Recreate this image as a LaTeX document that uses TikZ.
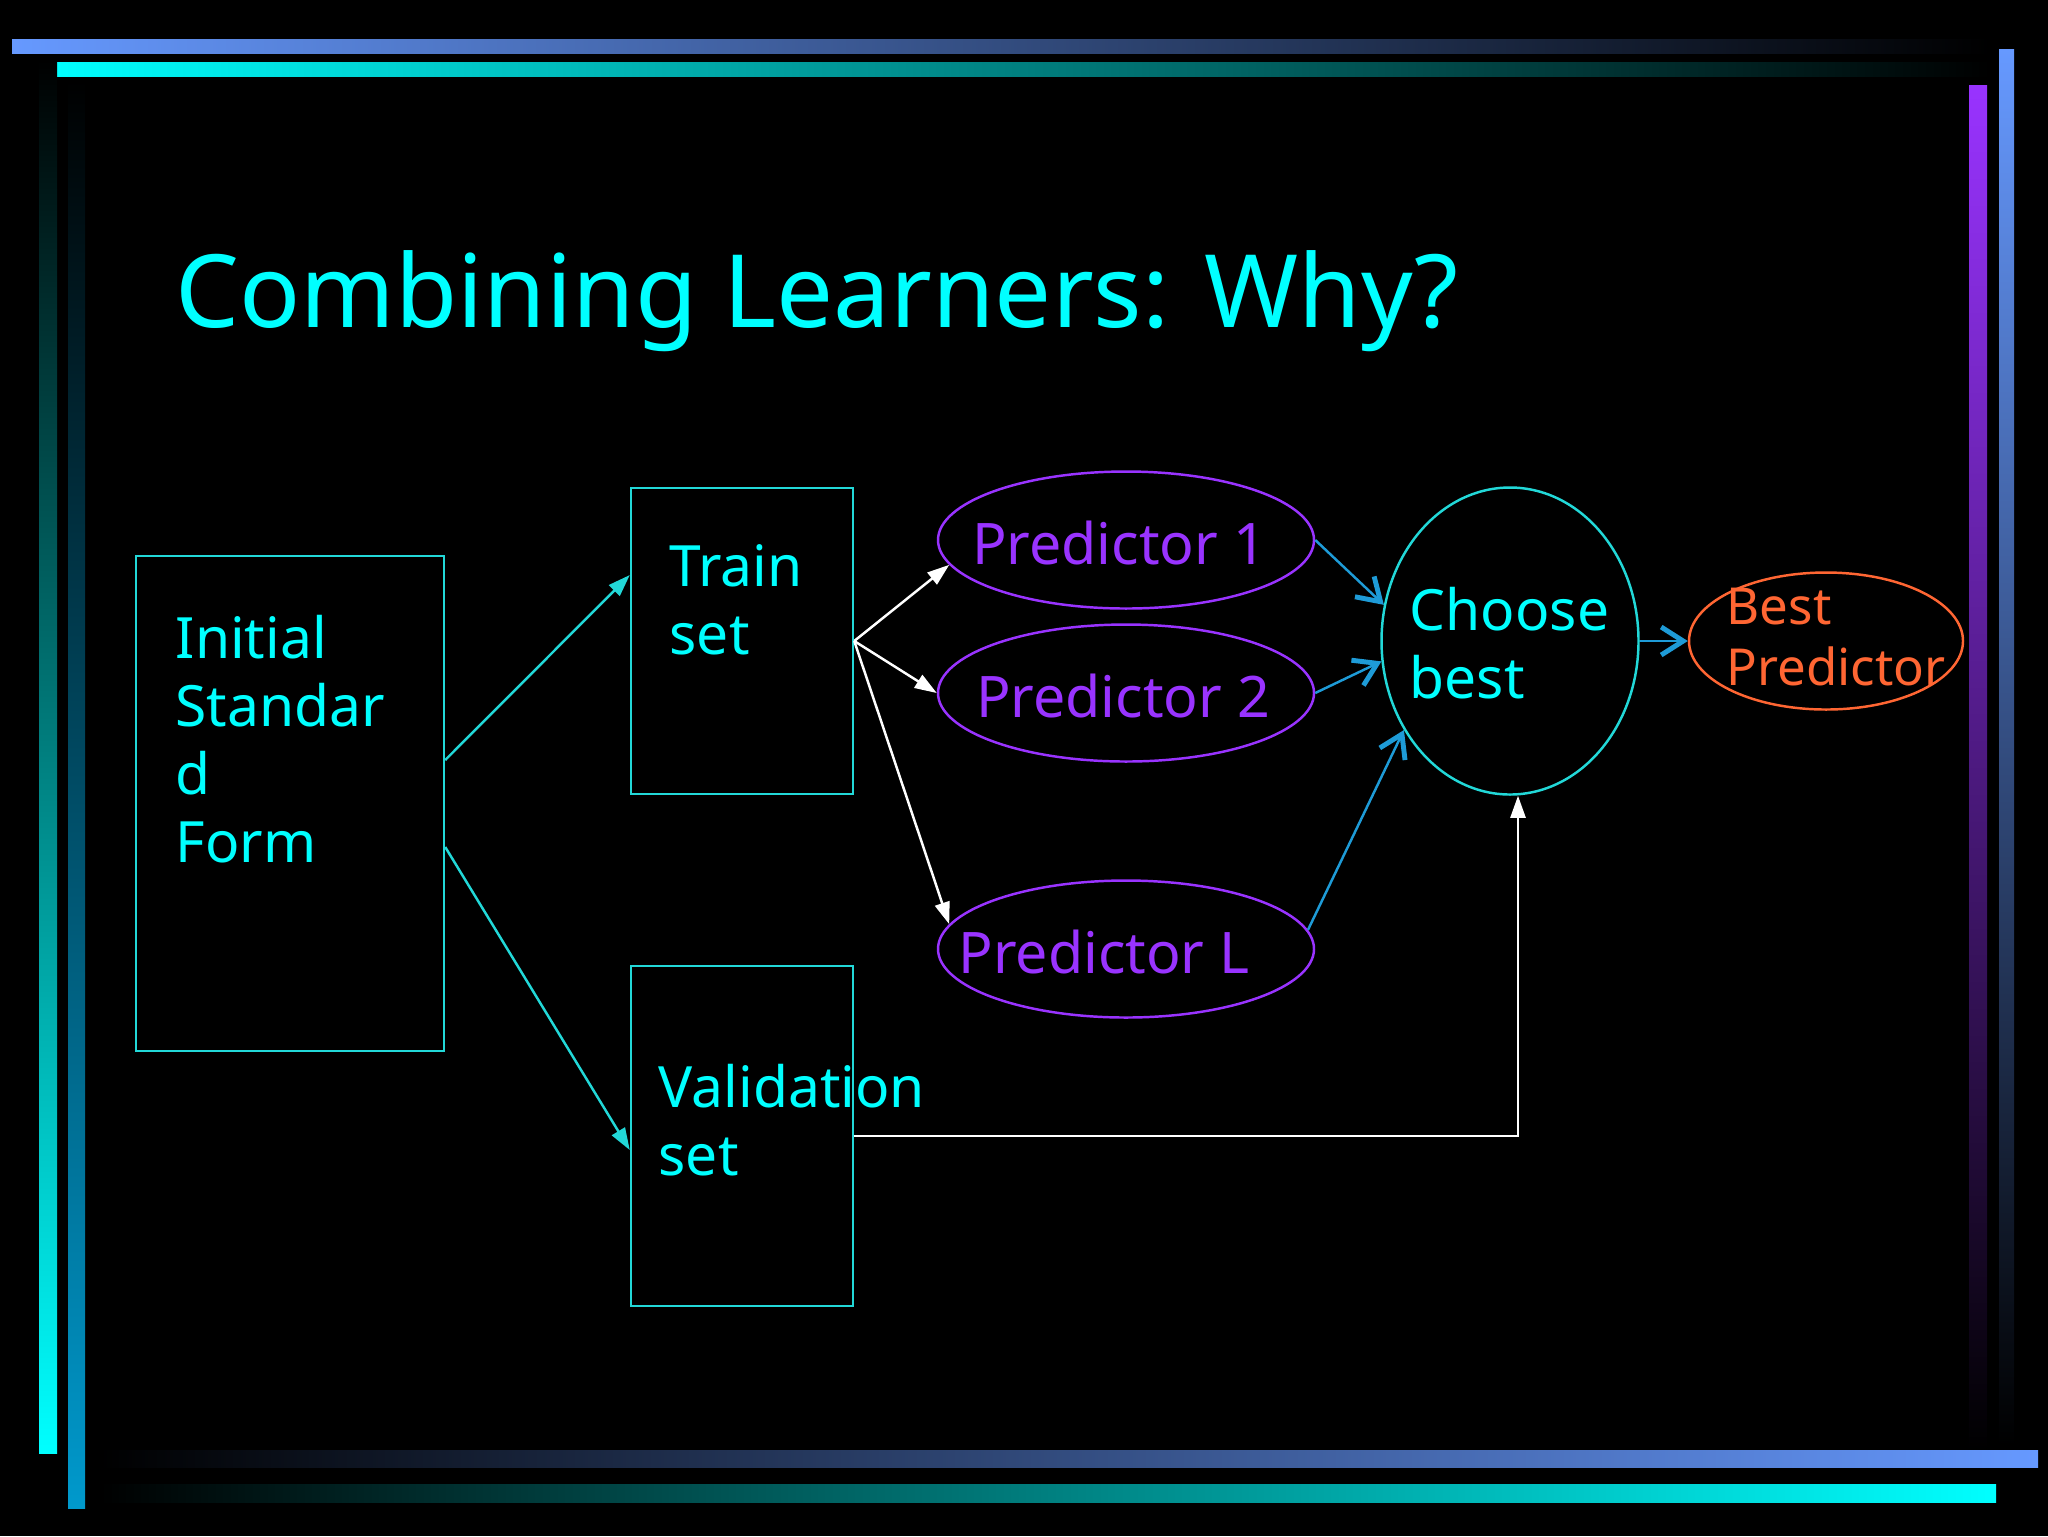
\documentclass[tikz,border=0pt]{standalone}
\usepackage{fontspec}
\setmainfont{Noto Sans}
\usetikzlibrary{arrows.meta,shapes.geometric}

\definecolor{slidecyan}{HTML}{00FFFF}
\definecolor{boxcyan}{HTML}{22D8D8}
\definecolor{predpurple}{HTML}{9933FF}
\definecolor{bestorange}{HTML}{FF6633}
\definecolor{linkblue}{HTML}{1E9BD7}
\definecolor{barblue}{HTML}{6699FF}
\definecolor{barteal}{HTML}{0099CC}

\newcommand{\textlines}[1]{\begin{tabular}[t]{@{}l@{}}#1\end{tabular}}

\begin{document}
\begin{tikzpicture}[x=0.1mm, y=-0.1mm,
    setbox/.style={draw=boxcyan, line width=0.7pt, inner sep=0pt},
    predictor/.style={ellipse, draw=predpurple, line width=0.7pt, inner sep=0pt,
        minimum width=37.6mm, minimum height=13.7mm},
    bodytext/.style={text=slidecyan, inner sep=0pt, anchor=base west,
        font=\fontsize{16.2pt}{19.35pt}\selectfont},
    predtext/.style={text=predpurple, inner sep=0pt,
        font=\fontsize{16.3pt}{19.35pt}\selectfont},
    feedline/.style={boxcyan, line width=0.7pt, -{Triangle[length=2.2mm, width=1.5mm]}},
    splitline/.style={white, line width=0.7pt, -{Triangle[length=2.2mm, width=1.5mm]}},
    pickline/.style={linkblue, line width=0.7pt,
        -{Straight Barb[length=2.2mm, width=2.8mm, line width=1.4pt]}}
]
    % Background
    \fill[black] (0,0) rectangle (2048,1536);

    % Frame bars
    \shade[left color=barblue, right color=black] (12,39) rectangle (1990,53);
    \shade[left color=slidecyan, right color=black] (49,62) rectangle (1990,76);
    \shade[top color=black, bottom color=slidecyan] (39,60) rectangle (57,1453);
    \shade[top color=black, bottom color=barteal] (68,80) rectangle (85,1508);
    \shade[top color=predpurple, bottom color=black] (1969,85) rectangle (1987,1450);
    \shade[top color=barblue, bottom color=black] (1999,49) rectangle (2014,1445);
    \shade[left color=black, right color=barblue] (100,1450) rectangle (2038,1467);
    \shade[left color=black, right color=slidecyan] (100,1484) rectangle (1996,1502);

    % Title
    \node[bodytext, font=\fontsize{28.8pt}{35pt}\selectfont] (title) at (175,327)
        {Combining Learners: Why?};

    % Data sets
    \node[setbox, minimum width=30.8mm, minimum height=49.5mm] (init) at (290,803.5) {};
    \node[setbox, minimum width=22.2mm, minimum height=30.6mm] (train) at (742,641) {};
    \node[setbox, minimum width=22.2mm, minimum height=34mm] (valid) at (742,1136) {};
    \node[bodytext] (inittext) at (175,658) {\textlines{Initial\\Standar\\d\\Form}};
    \node[bodytext] (traintext) at (669,586) {\textlines{Train\\set}};
    \node[bodytext] (validtext) at (658,1107) {\textlines{Validation\\set}};

    % Predictors
    \foreach \name/\y/\lab/\dx in {p1/540/1/-7, p2/693/2/-3, pl/949/L/-22} {
        \node[predictor] (\name) at (1126,\y) {};
        \node[predtext] (\name-text) at (1126+\dx,\y+3) {Predictor \lab};
    }

    % Selection
    \node[ellipse, draw=boxcyan, line width=0.7pt, inner sep=0pt,
        minimum width=25.7mm, minimum height=30.7mm] (cb) at (1510,641) {};
    \node[bodytext] (cbtext) at (1409,630) {\textlines{Choose\\best}};
    \node[ellipse, draw=bestorange, line width=0.7pt, inner sep=0pt,
        minimum width=27.4mm, minimum height=13.7mm] (bp) at (1826,641) {};
    \node[bodytext, text=bestorange, font=\fontsize{14.5pt}{17.6pt}\selectfont]
        (bptext) at (1726,624) {\textlines{Best\\Predictor}};

    % Splitting the data
    \draw[feedline] ([yshift=4.35mm]init.east) -- ([yshift=6.6mm]train.west);
    \draw[feedline] ([yshift=-4.35mm]init.east) -- ([yshift=-1.4mm]valid.west);

    % Training
    \draw[splitline] (train.east) -- (p1.188);
    \draw[splitline] (train.east) -- (p2.west);
    \draw[splitline] (train.east) -- (pl.172);

    % Choosing
    \draw[pickline] (p1.east) -- (cb.164);
    \draw[pickline] (p2.east) -- (cb.189);
    \draw[pickline] (pl.6) -- (cb.220);
    \draw[pickline] (cb.east) -- (bp.west);
    \draw[splitline] (valid.east) -| ([xshift=0.8mm]cb.south);
\end{tikzpicture}
\end{document}
